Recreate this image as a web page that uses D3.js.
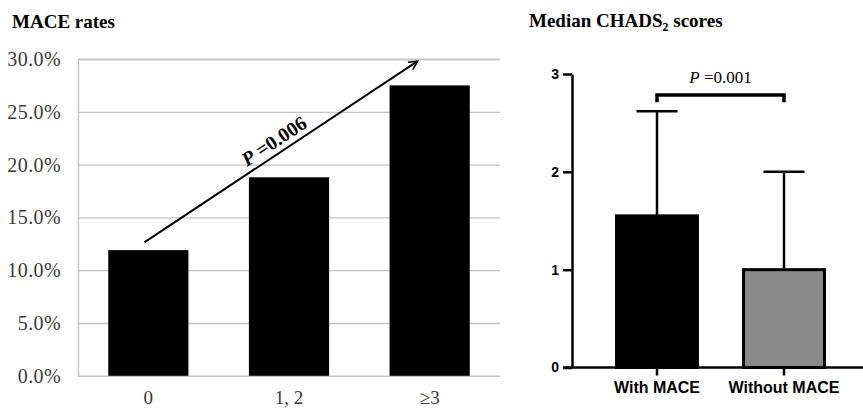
<!DOCTYPE html>
<html>
<head>
<meta charset="utf-8">
<script src="https://cdn.jsdelivr.net/npm/d3@7"></script>
<style>
  body { margin: 0; background: #fff; }
  svg { display: block; }
</style>
</head>
<body>
<div id="chart"></div>
<script>
const maceCategories = ["0", "1, 2", "\u22653"];
const maceRates = [11.9, 18.8, 27.5];
const rateTicks = [0, 5, 10, 15, 20, 25, 30];

const chadsGroups = ["With MACE", "Without MACE"];
const chadsMedians = [1.55, 1.0];
const chadsUpper = [2.62, 2.0];
const chadsTicks = [0, 1, 2, 3];

const width = 863;
const height = 408;
const serif = "'Liberation Serif', 'Times New Roman', serif";
const sans = "'Liberation Sans', Arial, sans-serif";

const svg = d3
  .select("#chart")
  .append("svg")
  .attr("width", width)
  .attr("height", height);

// arrow marker (open head)
svg
  .append("defs")
  .append("marker")
  .attr("id", "arrow")
  .attr("viewBox", "0 0 10 10")
  .attr("refX", 9)
  .attr("refY", 5)
  .attr("markerWidth", 11)
  .attr("markerHeight", 11)
  .attr("markerUnits", "userSpaceOnUse")
  .attr("orient", "auto")
  .append("path")
  .attr("d", "M1,1 L9,5 L1,9")
  .attr("fill", "none")
  .attr("stroke", "#000")
  .attr("stroke-width", 1.4);

// ---------- left panel: MACE rates ----------
const x1 = d3
  .scaleBand()
  .domain(maceCategories)
  .range([78, 500])
  .paddingInner(0.43)
  .paddingOuter(0.215);

const y1 = d3.scaleLinear().domain([0, 30]).range([375.8, 59]);

svg
  .append("text")
  .attr("x", 12)
  .attr("y", 28)
  .attr("font-family", serif)
  .attr("font-weight", "bold")
  .attr("font-size", 19)
  .text("MACE rates");

const yAxis1 = svg
  .append("g")
  .attr("transform", "translate(78,0)")
  .call(
    d3
      .axisLeft(y1)
      .tickValues(rateTicks)
      .tickSize(-422)
      .tickPadding(17)
      .tickFormat((d) => d3.format(".1f")(d) + "%")
  );
yAxis1.select(".domain").attr("stroke", "#bfbfbf").attr("stroke-width", 1.3);
yAxis1.selectAll(".tick line").attr("stroke", "#c4c4c4").attr("stroke-width", 1.3);
yAxis1
  .selectAll(".tick text")
  .attr("font-family", serif)
  .attr("font-size", 20)
  .attr("letter-spacing", 0.4)
  .attr("fill", "#3a3a3a");

svg
  .selectAll(".mace-bar")
  .data(maceRates)
  .enter()
  .append("rect")
  .attr("class", "mace-bar")
  .attr("x", (d, i) => x1(maceCategories[i]))
  .attr("y", (d) => y1(d))
  .attr("width", x1.bandwidth())
  .attr("height", (d) => y1(0) - y1(d))
  .attr("fill", "#000");

const xAxis1 = svg
  .append("g")
  .attr("transform", `translate(0, ${y1(0)})`)
  .call(d3.axisBottom(x1).tickSize(0).tickPadding(15));
xAxis1.select(".domain").remove();
xAxis1
  .selectAll(".tick text")
  .attr("font-family", serif)
  .attr("font-size", 19)
  .attr("fill", "#3a3a3a");

// trend arrow
const arrowStart = [x1("0") + x1.bandwidth() / 2 - 4, y1(12.64)];
const arrowEnd = [x1("\u22653") + x1.bandwidth() / 2 - 12, y1(29.8)];
svg
  .append("line")
  .attr("x1", arrowStart[0])
  .attr("y1", arrowStart[1])
  .attr("x2", arrowEnd[0])
  .attr("y2", arrowEnd[1])
  .attr("stroke", "#000")
  .attr("stroke-width", 2)
  .attr("marker-end", "url(#arrow)");

const angle =
  (Math.atan2(arrowEnd[1] - arrowStart[1], arrowEnd[0] - arrowStart[0]) * 180) /
  Math.PI;
const labelT = 0.5;
const lx = arrowStart[0] + (arrowEnd[0] - arrowStart[0]) * labelT;
const ly = arrowStart[1] + (arrowEnd[1] - arrowStart[1]) * labelT;
const pLabel = svg
  .append("text")
  .attr("transform", `translate(${lx},${ly}) rotate(${angle}) translate(0,-6)`)
  .attr("text-anchor", "middle")
  .attr("font-family", serif)
  .attr("font-weight", "bold")
  .attr("font-size", 20);
pLabel.append("tspan").attr("font-style", "italic").text("P");
pLabel.append("tspan").text(" =0.006");

// ---------- right panel: median CHADS2 ----------
const x2 = d3
  .scaleBand()
  .domain(chadsGroups)
  .range([593.5, 847.5])
  .paddingInner(0.339)
  .paddingOuter(0.1695);

const y2 = d3.scaleLinear().domain([0, 3]).range([367.5, 74]);

const title2 = svg
  .append("text")
  .attr("x", 529)
  .attr("y", 27)
  .attr("font-family", serif)
  .attr("font-weight", "bold")
  .attr("font-size", 19);
title2.append("tspan").text("Median CHADS");
title2.append("tspan").attr("font-size", 12).attr("dy", 4).text("2");
title2.append("tspan").attr("dy", -4).text(" scores");

svg
  .selectAll(".chads-bar")
  .data(chadsMedians)
  .enter()
  .append("rect")
  .attr("class", "chads-bar")
  .attr("x", (d, i) => x2(chadsGroups[i]) + 1.5)
  .attr("y", (d) => y2(d))
  .attr("width", x2.bandwidth() - 3)
  .attr("height", (d) => y2(0) - y2(d))
  .attr("fill", (d, i) => (i === 0 ? "#000" : "#8a8a8a"))
  .attr("stroke", "#000")
  .attr("stroke-width", 3);

// error bars (upper whisker only)
const cx = (i) => x2(chadsGroups[i]) + x2.bandwidth() / 2;
chadsUpper.forEach((u, i) => {
  svg
    .append("line")
    .attr("x1", cx(i))
    .attr("x2", cx(i))
    .attr("y1", y2(chadsMedians[i]))
    .attr("y2", y2(u))
    .attr("stroke", "#000")
    .attr("stroke-width", 2.5);
  svg
    .append("line")
    .attr("x1", cx(i) - 20.5)
    .attr("x2", cx(i) + 20.5)
    .attr("y1", y2(u))
    .attr("y2", y2(u))
    .attr("stroke", "#000")
    .attr("stroke-width", 2.5);
});

// axes
const yAxis2 = svg
  .append("g")
  .attr("transform", `translate(${572},0)`)
  .call(
    d3
      .axisLeft(y2)
      .tickValues(chadsTicks)
      .tickFormat(d3.format("d"))
      .tickSize(9)
      .tickSizeOuter(0)
      .tickPadding(4)
  );
yAxis2.selectAll("path, line").attr("stroke", "#000").attr("stroke-width", 2.5);
yAxis2
  .selectAll(".tick text")
  .attr("font-family", sans)
  .attr("font-weight", "bold")
  .attr("font-size", 14)
  .attr("fill", "#000");

const xAxis2 = svg
  .append("g")
  .attr("transform", `translate(0, ${y2(0)})`)
  .call(d3.axisBottom(x2).tickSize(8).tickSizeOuter(0).tickPadding(6));
xAxis2.select(".domain").remove();
xAxis2.selectAll(".tick line").attr("stroke", "#000").attr("stroke-width", 2.5);
xAxis2
  .selectAll(".tick text")
  .attr("font-family", sans)
  .attr("font-weight", "bold")
  .attr("font-size", 16)
  .attr("fill", "#000");
svg
  .append("line")
  .attr("x1", 563)
  .attr("x2", width)
  .attr("y1", y2(0))
  .attr("y2", y2(0))
  .attr("stroke", "#000")
  .attr("stroke-width", 2.5);

// significance bracket
const bracketY = y2(2.785);
const bracketTip = y2(2.71);
svg
  .append("path")
  .attr("d", `M${cx(0)},${bracketTip} V${bracketY} H${cx(1)} V${bracketTip}`)
  .attr("fill", "none")
  .attr("stroke", "#000")
  .attr("stroke-width", 3.5);

const pLabel2 = svg
  .append("text")
  .attr("x", (cx(0) + cx(1)) / 2)
  .attr("y", y2(2.905))
  .attr("text-anchor", "middle")
  .attr("font-family", serif)
  .attr("font-size", 17);
pLabel2.append("tspan").attr("font-style", "italic").text("P");
pLabel2.append("tspan").text(" =0.001");
</script>
</body>
</html>
